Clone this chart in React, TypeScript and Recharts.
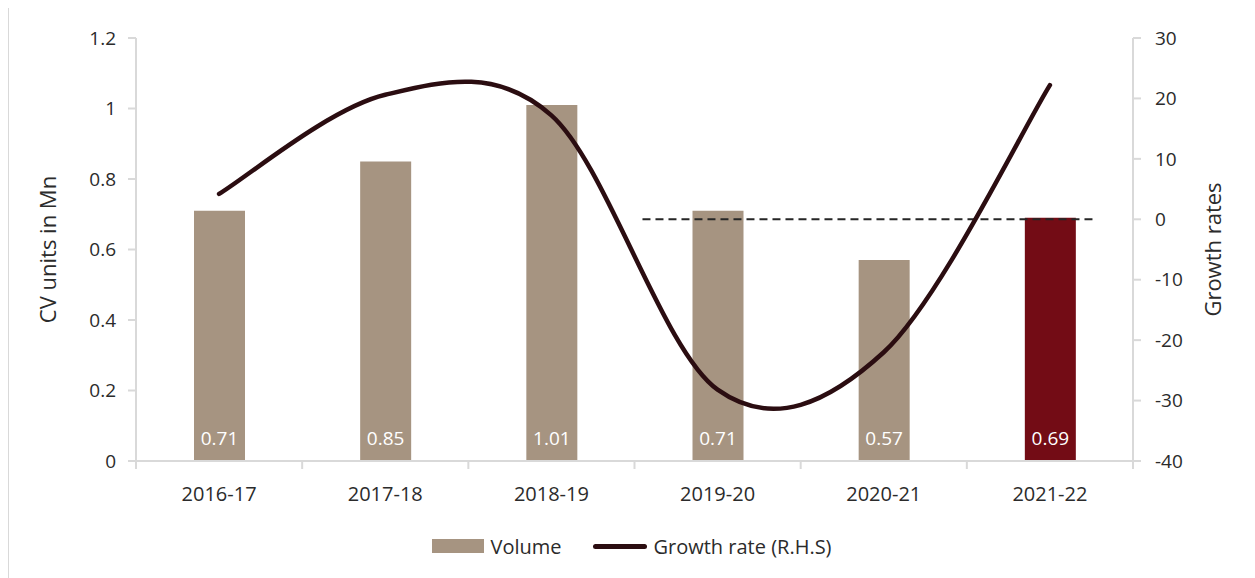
import React from 'react';
import { ComposedChart, Bar, Line, Cell, XAxis, YAxis, Legend, ReferenceLine, LabelList } from 'recharts';

const years = ['2016-17', '2017-18', '2018-19', '2019-20', '2020-21', '2021-22'];
const volume = [0.71, 0.85, 1.01, 0.71, 0.57, 0.69];
const growth = [4.2, 20.6, 17.2, -28.2, -22.0, 22.2];
const leftTicks = [0, 0.2, 0.4, 0.6, 0.8, 1, 1.2];
const rightTicks = [-40, -30, -20, -10, 0, 10, 20, 30];

const data = years.map((year, i) => ({ year, volume: volume[i], growth: growth[i] }));

const FONT = '"Open Sans", "Liberation Sans", sans-serif';
const TEXT = '#2b2b2b';
const AXIS = '#d9d9d9';
const BAR = '#a69481';
const BAR_LAST = '#730c15';
const LINE = '#2b0d11';

const CHART_W = 1246;
const CHART_H = 571;
const MARGIN = { top: 31, right: 20, left: 20, bottom: 12 };
const LEFT_W = 107;
const RIGHT_W = 102;
const BAND = (CHART_W - MARGIN.left - MARGIN.right - LEFT_W - RIGHT_W) / years.length;

// excel-like smoothed line (catmull-rom style bezier)
const excelCurve = (context: any) => {
    let pts: number[][] = [];
    return {
        areaStart() {},
        areaEnd() {},
        lineStart() { pts = []; },
        point(x: number, y: number) { pts.push([+x, +y]); },
        lineEnd() {
            if (!pts.length) return;
            context.moveTo(pts[0][0], pts[0][1]);
            for (let i = 0; i < pts.length - 1; i++) {
                const p0 = pts[i - 1] || pts[i];
                const p1 = pts[i];
                const p2 = pts[i + 1];
                const p3 = pts[i + 2] || pts[i + 1];
                context.bezierCurveTo(
                    p1[0] + (p2[0] - p0[0]) / 6, p1[1] + (p2[1] - p0[1]) / 6,
                    p2[0] - (p3[0] - p1[0]) / 6, p2[1] - (p3[1] - p1[1]) / 6,
                    p2[0], p2[1]
                );
            }
        },
    };
};

// category label in the middle, tick marks on band edges
const YearTick = (props: any) => {
    const { x, y, payload, index } = props;
    const axisY = y - 8;
    const left = x - BAND / 2;
    return (
        <g>
            <line x1={left} y1={axisY} x2={left} y2={axisY + 8} stroke={AXIS} strokeWidth={2} />
            {index === years.length - 1 && (
                <line x1={x + BAND / 2} y1={axisY} x2={x + BAND / 2} y2={axisY + 8} stroke={AXIS} strokeWidth={2} />
            )}
            <text x={x} y={y + 24} textAnchor="middle" dominantBaseline="central" fill={TEXT} fontSize={20} fontFamily={FONT}>
                {payload.value}
            </text>
        </g>
    );
};

const LegendContent = () => (
    <div style={{ display: 'flex', justifyContent: 'center', alignItems: 'center', fontFamily: FONT, fontSize: 20, color: TEXT, height: 40 }}>
        <span style={{ display: 'inline-block', width: 52, height: 14, background: BAR, marginRight: 6 }} />
        <span>Volume</span>
        <span style={{ display: 'inline-block', width: 54, height: 5, borderRadius: 3, background: LINE, marginLeft: 32, marginRight: 6 }} />
        <span>Growth rate (R.H.S)</span>
    </div>
);

export default function App() {
    return (
        <div style={{ marginTop: -2, borderTop: `1px solid ${AXIS}`, borderLeft: `1px solid ${AXIS}`, width: CHART_W + 10, height: CHART_H + 10, background: '#fff' }}>
            <ComposedChart width={CHART_W} height={CHART_H} data={data} margin={MARGIN}>
                <XAxis
                    xAxisId="cat"
                    dataKey="year"
                    axisLine={{ stroke: AXIS, strokeWidth: 2 }}
                    tickLine={false}
                    tickSize={8}
                    tickMargin={0}
                    height={65}
                    interval={0}
                    tick={<YearTick />}
                />
                {/* helper scale across the plot, used only for the dashed zero line */}
                <XAxis xAxisId="n" type="number" domain={[0, 5]} allowDataOverflow hide />
                <YAxis
                    yAxisId="left"
                    width={LEFT_W}
                    domain={[0, 1.2]}
                    ticks={leftTicks}
                    interval={0}
                    axisLine={{ stroke: AXIS, strokeWidth: 2 }}
                    tickLine={{ stroke: AXIS, strokeWidth: 2 }}
                    tickSize={8}
                    tickMargin={12}
                    tick={{ fontSize: 19, fill: TEXT, fontFamily: FONT }}
                    label={{ value: 'CV units in Mn', angle: -90, position: 'insideLeft', offset: 19, style: { textAnchor: 'middle', fontSize: 22, fill: TEXT, fontFamily: FONT } }}
                />
                <YAxis
                    yAxisId="right"
                    orientation="right"
                    width={RIGHT_W}
                    domain={[-40, 30]}
                    ticks={rightTicks}
                    interval={0}
                    axisLine={{ stroke: AXIS, strokeWidth: 2 }}
                    tickLine={{ stroke: AXIS, strokeWidth: 2 }}
                    tickSize={8}
                    tickMargin={14}
                    tick={{ fontSize: 19, fill: TEXT, fontFamily: FONT }}
                    label={{ value: 'Growth rates', angle: -90, position: 'insideRight', offset: 22, style: { textAnchor: 'middle', fontSize: 22, fill: TEXT, fontFamily: FONT } }}
                />
                <Bar xAxisId="cat" yAxisId="left" dataKey="volume" name="Volume" barSize={51} isAnimationActive={false}>
                    {data.map((d, i) => (
                        <Cell key={`cell-${i}`} fill={i === data.length - 1 ? BAR_LAST : BAR} />
                    ))}
                    <LabelList
                        dataKey="volume"
                        position="insideBottom"
                        offset={16}
                        formatter={(v: any) => Number(v).toFixed(2)}
                        style={{ fill: '#ffffff', fontSize: 19, fontFamily: FONT }}
                    />
                </Bar>
                <ReferenceLine
                    xAxisId="n"
                    yAxisId="right"
                    segment={[{ x: 2.54, y: 0 }, { x: 4.8, y: 0 }]}
                    stroke="#262626"
                    strokeWidth={2}
                    strokeDasharray="8 5"
                    ifOverflow="visible"
                />
                <Line
                    xAxisId="cat"
                    yAxisId="right"
                    dataKey="growth"
                    name="Growth rate (R.H.S)"
                    type={excelCurve as any}
                    stroke={LINE}
                    strokeWidth={4.5}
                    strokeLinecap="round"
                    dot={false}
                    activeDot={false}
                    isAnimationActive={false}
                />
                <Legend verticalAlign="bottom" height={40} content={<LegendContent />} />
            </ComposedChart>
        </div>
    );
}
